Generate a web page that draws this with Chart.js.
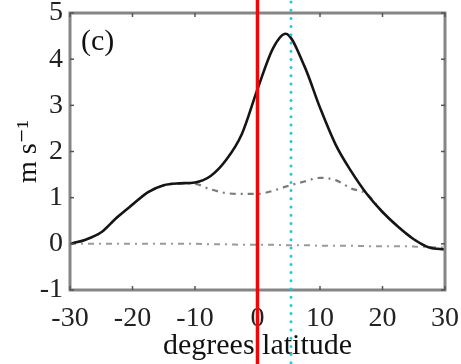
<!DOCTYPE html>
<html>
<head>
<meta charset="utf-8">
<script src="https://cdn.jsdelivr.net/npm/chart.js@4/dist/chart.umd.min.js"></script>
<style>
  html, body { margin: 0; padding: 0; background: #fff; }
  #wrap { width: 461px; height: 364px; position: relative; }
</style>
</head>
<body>
<div id="wrap"><canvas id="c" width="461" height="364"></canvas></div>
<script>
// ---- data ----
const latitudes   = [-30, -27.5, -25, -22.5, -20, -17.5, -15, -12.5, -10, -7.5, -5, -2.5, 0, 2.5, 4.5, 7.5, 10, 12.5, 15, 17.5, 20, 22.5, 25, 27.5, 30];
const totalWind   = [0, 0.09, 0.25, 0.57, 0.85, 1.12, 1.27, 1.31, 1.33, 1.47, 1.82, 2.38, 3.35, 4.24, 4.55, 3.85, 2.95, 2.15, 1.57, 1.08, 0.69, 0.37, 0.1, -0.08, -0.12];
const dashWind    = [0, 0.09, 0.25, 0.57, 0.85, 1.12, 1.27, 1.31, 1.3, 1.18, 1.1, 1.08, 1.08, 1.15, 1.24, 1.35, 1.43, 1.38, 1.2, 1.08, 0.69, 0.37, 0.1, -0.08, -0.12];
const zeroWind    = [0, 0, 0, 0, 0, 0, 0, 0, 0, -0.01, -0.01, -0.02, -0.02, -0.02, -0.03, -0.03, -0.04, -0.04, -0.04, -0.05, -0.05, -0.05, -0.06, -0.07, -0.08];
const xTickValues = [-30, -20, -10, 0, 10, 20, 30];
const yTickValues = [-1, 0, 1, 2, 3, 4, 5];
const redLineLat  = 0;
const cyanLineLat = 5.4;
const panelLabel  = '(c)';
const xTitle      = 'degrees latitude';
const yTitle      = 'm s\u207B\u00B9';

const pts = arr => latitudes.map((x, i) => ({ x: x, y: arr[i] }));
const SERIF = '"Liberation Serif", "DejaVu Serif", serif';

const overlay = {
  id: 'overlay',
  afterDatasetsDraw(chart) {
    const ctx = chart.ctx, a = chart.chartArea;
    const xs = chart.scales.x, ys = chart.scales.y;
    ctx.save();
    // frame
    ctx.strokeStyle = '#858585';
    ctx.lineWidth = 3;
    ctx.strokeRect(a.left, a.top, a.right - a.left, a.bottom - a.top);
    // inward tick marks
    ctx.strokeStyle = '#555';
    ctx.lineWidth = 1.5;
    xTickValues.forEach(v => {
      const px = xs.getPixelForValue(v);
      ctx.beginPath(); ctx.moveTo(px, a.bottom); ctx.lineTo(px, a.bottom - 4); ctx.stroke();
      ctx.beginPath(); ctx.moveTo(px, a.top); ctx.lineTo(px, a.top + 4); ctx.stroke();
    });
    yTickValues.forEach(v => {
      const py = ys.getPixelForValue(v);
      ctx.beginPath(); ctx.moveTo(a.left, py); ctx.lineTo(a.left + 4, py); ctx.stroke();
      ctx.beginPath(); ctx.moveTo(a.right, py); ctx.lineTo(a.right - 4, py); ctx.stroke();
    });
    // panel label
    ctx.fillStyle = '#111';
    ctx.font = '30px ' + SERIF;
    ctx.textBaseline = 'middle';
    ctx.textAlign = 'left';
    ctx.fillText(panelLabel, a.left + 11, a.top + 29);
    ctx.restore();
  },
  afterDraw(chart) {
    const ctx = chart.ctx, xs = chart.scales.x;
    const H = chart.height;
    ctx.save();
    // cyan dotted line
    const cx = Math.round(xs.getPixelForValue(cyanLineLat));
    ctx.strokeStyle = 'rgb(38,200,206)';
    ctx.lineWidth = 3;
    ctx.lineCap = 'round';
    ctx.setLineDash([0, 8.2]);
    ctx.beginPath(); ctx.moveTo(cx, 2); ctx.lineTo(cx, H); ctx.stroke();
    // red solid line
    ctx.setLineDash([]);
    ctx.lineCap = 'butt';
    const rx = xs.getPixelForValue(redLineLat);
    ctx.strokeStyle = '#ff0000';
    ctx.lineWidth = 3.5;
    ctx.beginPath(); ctx.moveTo(rx, 0); ctx.lineTo(rx, H); ctx.stroke();
    ctx.restore();
  }
};

new Chart(document.getElementById('c'), {
  type: 'line',
  data: {
    datasets: [
      { label: 'total', data: pts(totalWind), borderColor: '#151515', borderWidth: 2.6,
        pointRadius: 0, cubicInterpolationMode: 'monotone', fill: false },
      { label: 'dashed', data: pts(dashWind), borderColor: '#7a7a7a', borderWidth: 2.2,
        borderDash: [6, 5, 2, 5], pointRadius: 0, cubicInterpolationMode: 'monotone', fill: false },
      { label: 'zero', data: pts(zeroWind), borderColor: '#9a9a9a', borderWidth: 2,
        borderDash: [6, 5, 2, 5], pointRadius: 0, cubicInterpolationMode: 'monotone', fill: false }
    ]
  },
  options: {
    responsive: false,
    animation: false,
    events: [],
    layout: { padding: { top: 13, right: 16, left: 0, bottom: 0 } },
    plugins: { legend: { display: false }, tooltip: { enabled: false } },
    scales: {
      x: {
        type: 'linear', min: -30, max: 30,
        afterBuildTicks: s => { s.ticks = xTickValues.map(v => ({ value: v })); },
        afterFit: s => { s.height = 74; s.paddingLeft = 0; s.paddingRight = 0; },
        grid: { display: false, drawTicks: false },
        border: { display: false },
        ticks: { color: '#222', padding: 12, maxRotation: 0, autoSkip: false,
                 font: { family: SERIF, size: 28 } },
        title: { display: true, text: xTitle, color: '#111',
                 font: { family: SERIF, size: 30 }, padding: { top: 0, bottom: 0 } }
      },
      y: {
        type: 'linear', min: -1, max: 5,
        afterBuildTicks: s => { s.ticks = yTickValues.map(v => ({ value: v })); },
        afterFit: s => { s.width = 70; s.paddingTop = 0; s.paddingBottom = 0; },
        grid: { display: false, drawTicks: false },
        border: { display: false },
        ticks: { color: '#222', padding: 7, autoSkip: false,
                 font: { family: SERIF, size: 28 } },
        title: { display: true, text: yTitle, color: '#111',
                 font: { family: SERIF, size: 28 }, padding: { top: 12, bottom: 0 } }
      }
    }
  },
  plugins: [overlay]
});
</script>
</body>
</html>
